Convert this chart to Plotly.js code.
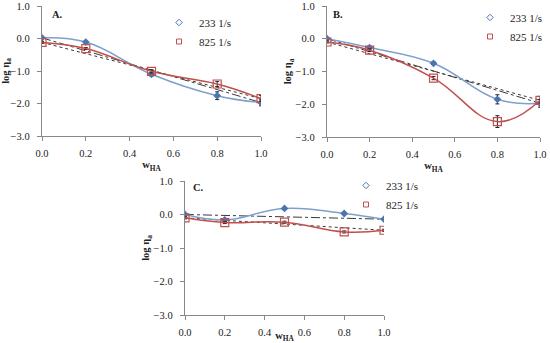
<!DOCTYPE html>
<html>
<head>
<meta charset="utf-8">
<script src="https://cdn.plot.ly/plotly-3.0.1.min.js"></script>
<style>html,body{margin:0;padding:0;background:#fff}#chart{width:550px;height:343px}</style>
</head>
<body>
<div id="chart"></div>
<script>
// Mass fraction of HA
var wHA = [0.0, 0.2, 0.5, 0.8, 1.0];
var xTicks = [0.0, 0.2, 0.4, 0.6, 0.8, 1.0];
var yTicks = [1.0, 0.0, -1.0, -2.0, -3.0];
var seriesNames = ["233 1/s", "825 1/s"];
var panelLabels = ["A.", "B.", "C."];

// Panel A: log viscosity
var A_233 = [0.02, -0.11, -1.10, -1.76, -1.97];
var A_233_err = [0.03, 0.03, 0.06, 0.12, 0.10];
var A_825 = [-0.12, -0.31, -1.01, -1.40, -1.85];
var A_825_err = [0.03, 0.03, 0.05, 0.08, 0.10];

// Panel B
var B_233 = [0.00, -0.27, -0.75, -1.85, -1.97];
var B_233_err = [0.03, 0.04, 0.04, 0.14, 0.12];
var B_825 = [-0.10, -0.35, -1.20, -2.53, -1.88];
var B_825_err = [0.03, 0.04, 0.05, 0.18, 0.12];

// Panel C
var C_233 = [0.00, -0.16, 0.18, 0.03, -0.14];
var C_233_err = [0.03, 0.03, 0.03, 0.03, 0.03];
var C_825 = [-0.10, -0.24, -0.23, -0.52, -0.47];
var C_825_err = [0.03, 0.03, 0.03, 0.03, 0.03];

var blueLine = "#7f9fcc", blueMark = "#4a76b0", red = "#c0504d", gray = "#888888", dark = "#3a3a3a";
var serif = "Liberation Serif";

function panel(xa, ya, y233, e233, y825, e825, lg) {
  var t = [];
  // mixing-rule straight lines between end points
  t.push({x:[wHA[0], wHA[wHA.length-1]], y:[y233[0], y233[y233.length-1]], xaxis:xa, yaxis:ya,
    mode:"lines", line:{color:dark, width:1, dash:"dashdot"}, showlegend:false, hoverinfo:"skip"});
  t.push({x:[wHA[0], wHA[wHA.length-1]], y:[y825[0], y825[y825.length-1]], xaxis:xa, yaxis:ya,
    mode:"lines", line:{color:dark, width:1, dash:"dot"}, showlegend:false, hoverinfo:"skip"});
  t.push({x:wHA, y:y233, xaxis:xa, yaxis:ya, mode:"lines+markers",
    line:{color:blueLine, width:1.5, shape:"spline", smoothing:1.2},
    marker:{symbol:"diamond", size:6, color:blueMark},
    error_y:{type:"data", array:e233, visible:true, color:"#222", thickness:1, width:2},
    showlegend:false});
  t.push({x:wHA, y:y825, xaxis:xa, yaxis:ya, mode:"lines+markers",
    line:{color:red, width:1.5, shape:"spline", smoothing:1.2},
    marker:{symbol:"square-open", size:8, color:red, line:{width:1.2, color:red}},
    error_y:{type:"data", array:e825, visible:true, color:"#222", thickness:1, width:2},
    showlegend:false});
  // legend entries
  t.push({x:[null], y:[null], xaxis:xa, yaxis:ya, mode:"markers", name:seriesNames[0], legend:lg,
    marker:{symbol:"diamond-open", size:5, color:blueMark, line:{width:1, color:blueMark}}});
  t.push({x:[null], y:[null], xaxis:xa, yaxis:ya, mode:"markers", name:seriesNames[1], legend:lg,
    marker:{symbol:"square-open", size:5, color:red, line:{width:1, color:red}}});
  return t;
}

var data = [].concat(
  panel("x", "y", A_233, A_233_err, A_825, A_825_err, "legend"),
  panel("x2", "y2", B_233, B_233_err, B_825, B_825_err, "legend2"),
  panel("x3", "y3", C_233, C_233_err, C_825, C_825_err, "legend3")
);

function xaxis(dom, anchor) {
  return {domain:dom, anchor:anchor, range:[0, 1], tickvals:xTicks,
    ticktext:xTicks.map(function(v){return v.toFixed(1);}),
    showgrid:false, zeroline:false, showline:true, linecolor:gray, linewidth:1,
    ticks:"outside", ticklen:4, tickcolor:gray, ticklabelstandoff:3,
    tickfont:{family:serif, size:10.5, color:"#222"},
    title:{text:"<b>w<sub>HA</sub></b>", font:{family:serif, size:10.5, color:"#222"}, standoff:3}};
}
function yaxis(dom, anchor) {
  return {domain:dom, anchor:anchor, range:[-3, 1], tickvals:yTicks,
    ticktext:yTicks.map(function(v){return (v < 0 ? "\u2212" : "") + Math.abs(v).toFixed(1) + "\u2002";}),
    showgrid:false, zeroline:false, showline:true, linecolor:gray, linewidth:1,
    ticks:"outside", ticklen:4, tickcolor:gray,
    tickfont:{family:serif, size:10.5, color:"#222"},
    title:{text:"<b>log η<sub>a</sub></b>", font:{family:serif, size:10.5, color:"#222"}, standoff:1}};
}

function legendCfg(x, y) {
  return {x:x, y:y, xanchor:"left", yanchor:"top", bgcolor:"rgba(0,0,0,0)",
    font:{family:serif, size:11, color:"#222"}, tracegroupgap:0, itemwidth:30};
}

var layout = {
  width:550, height:343, margin:{l:0, r:0, t:0, b:0},
  paper_bgcolor:"#fff", plot_bgcolor:"#fff", showlegend:true,
  xaxis: xaxis([42/550, 261/550], "y"),
  yaxis: yaxis([1-136/343, 1-6/343], "x"),
  xaxis2: xaxis([327/550, 540/550], "y2"),
  yaxis2: yaxis([1-137/343, 1-6/343], "x2"),
  xaxis3: xaxis([185/550, 384/550], "y3"),
  yaxis3: yaxis([1-315/343, 1-181/343], "x3"),
  legend: legendCfg(159/550, 1-8/343),
  legend2: legendCfg(470/550, 1-3/343),
  legend3: legendCfg(346/550, 1-171/343),
  annotations: [
    {text:"<b>"+panelLabels[0]+"</b>", xref:"paper", yref:"paper", x:50/550, y:1-14/343, xanchor:"left", yanchor:"middle", showarrow:false, font:{family:serif, size:10.5, color:"#222"}},
    {text:"<b>"+panelLabels[1]+"</b>", xref:"paper", yref:"paper", x:331/550, y:1-14/343, xanchor:"left", yanchor:"middle", showarrow:false, font:{family:serif, size:10.5, color:"#222"}},
    {text:"<b>"+panelLabels[2]+"</b>", xref:"paper", yref:"paper", x:191/550, y:1-188/343, xanchor:"left", yanchor:"middle", showarrow:false, font:{family:serif, size:10.5, color:"#222"}}
  ]
};

Plotly.newPlot("chart", data, layout, {staticPlot:true, displayModeBar:false});
</script>
</body>
</html>
